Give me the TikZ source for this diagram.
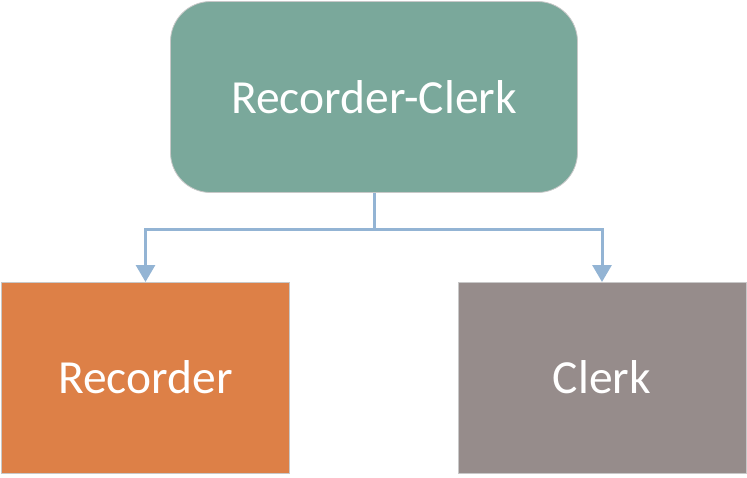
\documentclass[tikz,border=0pt]{standalone}
\usepackage{fontspec}
\setmainfont{Carlito}
\usetikzlibrary{arrows.meta,positioning}

\definecolor{c7aa89b}{RGB}{122,168,155}
\definecolor{cdd8047}{RGB}{221,128,71}
\definecolor{c968c8b}{RGB}{150,140,139}
\definecolor{c93b4d4}{RGB}{147,180,212}
\definecolor{cc8c8c8}{RGB}{200,200,200}

\tikzset{
  box/.style={draw=cc8c8c8,line width=0.8pt,text=white,inner sep=0pt,
    font=\fontsize{47.5}{57}\selectfont,minimum width=288pt,minimum height=191pt},
  link/.style={draw=c93b4d4,line width=3pt,-{Triangle[width=19pt,length=17pt]}}
}

\begin{document}
\begin{tikzpicture}[y=-1pt, x=1pt, inner sep=0pt, outer sep=0pt]
  \useasboundingbox (0,0) rectangle (747,477);
  \node[box,fill=c7aa89b,rounded corners=40pt,minimum width=407pt] (clerkbox)
    at (374,97) {Recorder-Clerk};
  \node[box,fill=cdd8047] (recorderbox) at (145.5,377.5) {Recorder};
  \node[box,fill=c968c8b] (clerkonly) at (602,377.5) {Clerk};
  \coordinate (split) at (374,229);
  \draw[draw=c93b4d4,line width=3pt] (clerkbox.south) -- (split);
  \draw[link] (split) -| (recorderbox.north);
  \draw[link] (split) -| (clerkonly.north);
\end{tikzpicture}
\end{document}
